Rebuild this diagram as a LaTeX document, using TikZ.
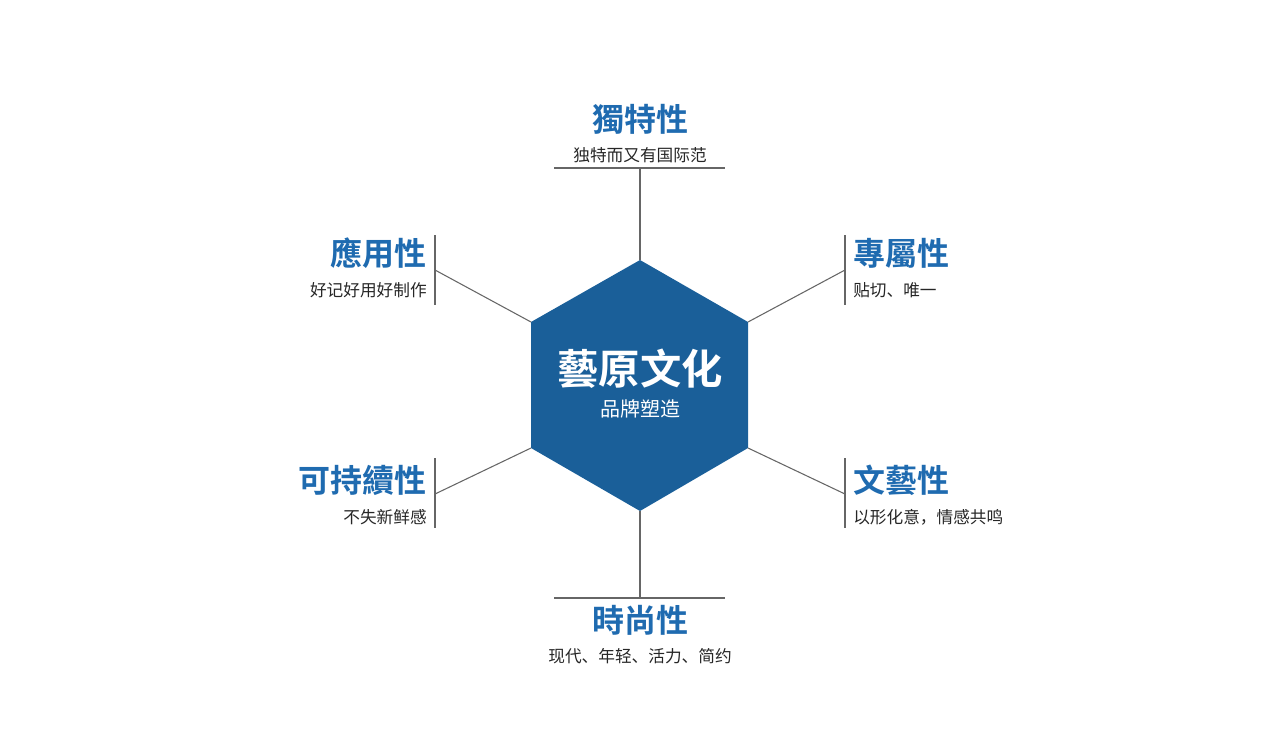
\documentclass[tikz,border=0pt]{standalone}
\usepackage{fontspec}
\newfontfamily\cjk{Noto Sans CJK SC}
\newfontfamily\cjkb{Noto Sans CJK SC Bold}
\definecolor{hexblue}{HTML}{1A5F99}
\definecolor{titleblue}{HTML}{1F6BB0}
\begin{document}
\begin{tikzpicture}[x=0.75pt,y=-0.75pt,
  ln/.style={draw=black!60,line width=0.8pt},
  ttl/.style={font=\cjkb\fontsize{24}{26}\selectfont,text=titleblue,inner sep=0pt},
  sub/.style={font=\cjk\fontsize{12.5}{14}\selectfont,text=black!85,inner sep=0pt}]
\useasboundingbox (0,0) rectangle (1280,754);
\coordinate (T) at (640,260); \coordinate (UR) at (748,322); \coordinate (LR) at (748,448);
\coordinate (B) at (640,511); \coordinate (LL) at (531,448); \coordinate (UL) at (531,322);
\fill[hexblue] (T)--(UR)--(LR)--(B)--(LL)--(UL)--cycle;
\node[font=\cjkb\fontsize{31}{33}\selectfont,text=white] (c1) at (640,369) {藝原文化};
\node[font=\cjk\fontsize{15}{17}\selectfont,text=white] (c2) at (640,409) {品牌塑造};
% top
\coordinate (tb) at (640,168);
\draw[ln] (T)--(tb); \draw[ln] (554,168)--(725,168);
\node[ttl] (t1) at (640,119) {獨特性};
\node[sub] (s1) at (640,155) {独特而又有国际范};
% bottom
\coordinate (bb) at (640,598);
\draw[ln] (B)--(bb); \draw[ln] (554,598)--(725,598);
\node[ttl] (t4) at (640,620) {時尚性};
\node[sub] (s4) at (640,656) {现代、年轻、活力、简约};
% upper right
\coordinate (urb) at (845,270);
\draw[ln] (UR)--(urb); \draw[ln] (845,235)--(845,305);
\node[ttl,anchor=west] (t2) at (853,253) {專屬性};
\node[sub,anchor=west] (s2) at (853,290) {贴切、唯一};
% lower right
\coordinate (lrb) at (845,494);
\draw[ln] (LR)--(lrb); \draw[ln] (845,458)--(845,528);
\node[ttl,anchor=west] (t3) at (853,480) {文藝性};
\node[sub,anchor=west] (s3) at (853,517) {以形化意，情感共鸣};
% upper left
\coordinate (ulb) at (435,270);
\draw[ln] (UL)--(ulb); \draw[ln] (435,235)--(435,305);
\node[ttl,anchor=east] (t6) at (427,253) {應用性};
\node[sub,anchor=east] (s6) at (427,290) {好记好用好制作};
% lower left
\coordinate (llb) at (435,494);
\draw[ln] (LL)--(llb); \draw[ln] (435,458)--(435,528);
\node[ttl,anchor=east] (t5) at (427,480) {可持續性};
\node[sub,anchor=east] (s5) at (427,517) {不失新鲜感};
\end{tikzpicture}
\end{document}
